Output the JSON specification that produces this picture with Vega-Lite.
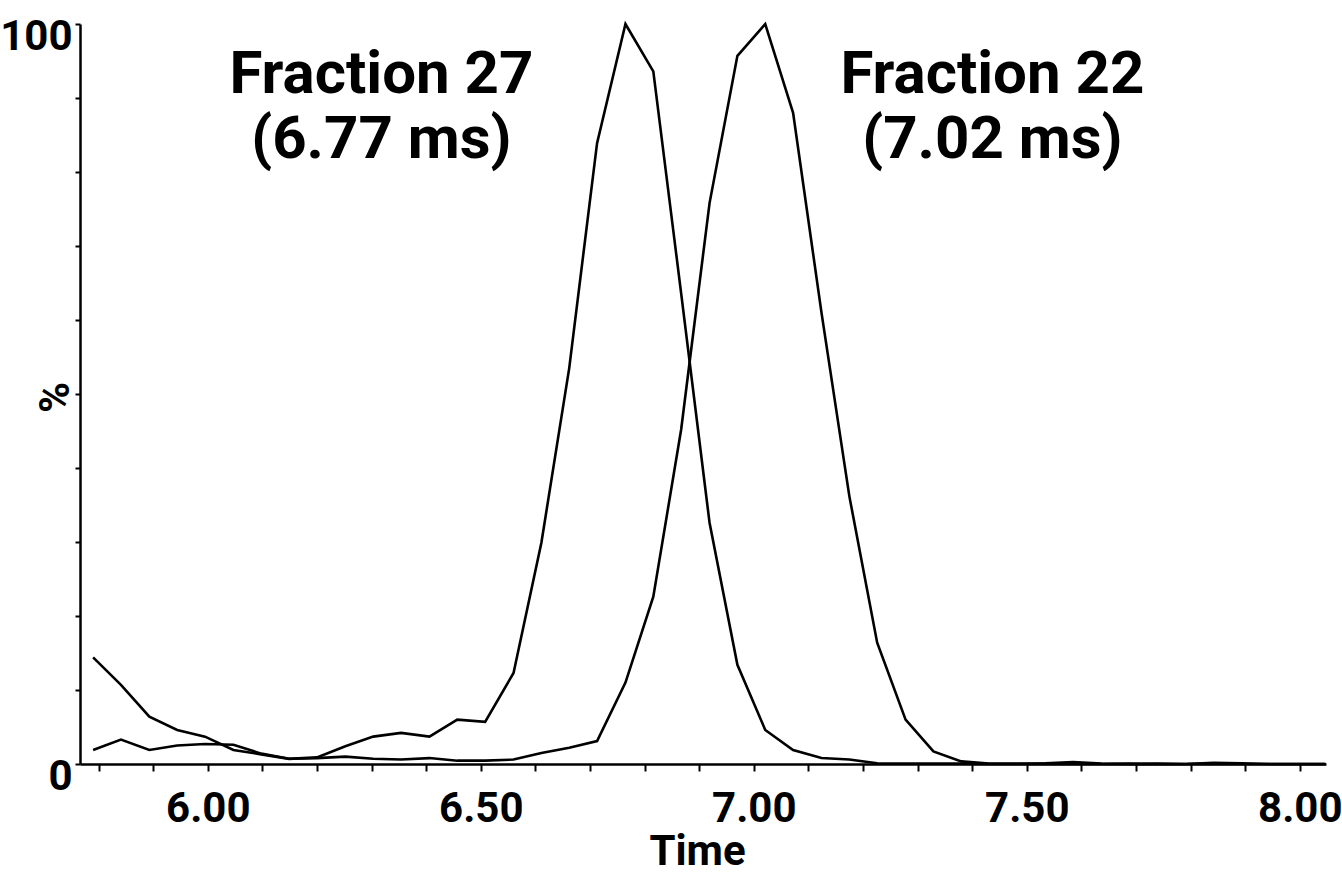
{
  "$schema": "https://vega.github.io/schema/vega-lite/v6.json",
  "autosize": {"type": "none"},
  "padding": {"left": 80, "top": 24, "right": 16, "bottom": 111},
  "width": 1246,
  "height": 740,
  "background": "white",
  "config": {
    "view": {"stroke": null},
    "font": "Roboto"
  },
  "datasets": {
    "series": [
      {"t": 5.790, "pct": 14.4, "fraction": "Fraction 27"},
      {"t": 5.841, "pct": 10.7, "fraction": "Fraction 27"},
      {"t": 5.893, "pct": 6.4, "fraction": "Fraction 27"},
      {"t": 5.944, "pct": 4.6, "fraction": "Fraction 27"},
      {"t": 5.995, "pct": 3.7, "fraction": "Fraction 27"},
      {"t": 6.047, "pct": 1.9, "fraction": "Fraction 27"},
      {"t": 6.098, "pct": 1.3, "fraction": "Fraction 27"},
      {"t": 6.149, "pct": 0.7, "fraction": "Fraction 27"},
      {"t": 6.200, "pct": 0.9, "fraction": "Fraction 27"},
      {"t": 6.252, "pct": 2.4, "fraction": "Fraction 27"},
      {"t": 6.303, "pct": 3.7, "fraction": "Fraction 27"},
      {"t": 6.354, "pct": 4.2, "fraction": "Fraction 27"},
      {"t": 6.406, "pct": 3.7, "fraction": "Fraction 27"},
      {"t": 6.457, "pct": 6.0, "fraction": "Fraction 27"},
      {"t": 6.508, "pct": 5.7, "fraction": "Fraction 27"},
      {"t": 6.560, "pct": 12.3, "fraction": "Fraction 27"},
      {"t": 6.611, "pct": 29.9, "fraction": "Fraction 27"},
      {"t": 6.662, "pct": 53.5, "fraction": "Fraction 27"},
      {"t": 6.713, "pct": 83.9, "fraction": "Fraction 27"},
      {"t": 6.765, "pct": 100, "fraction": "Fraction 27"},
      {"t": 6.816, "pct": 93.6, "fraction": "Fraction 27"},
      {"t": 6.867, "pct": 63.6, "fraction": "Fraction 27"},
      {"t": 6.919, "pct": 32.6, "fraction": "Fraction 27"},
      {"t": 6.970, "pct": 13.4, "fraction": "Fraction 27"},
      {"t": 7.021, "pct": 4.6, "fraction": "Fraction 27"},
      {"t": 7.072, "pct": 1.9, "fraction": "Fraction 27"},
      {"t": 7.124, "pct": 0.8, "fraction": "Fraction 27"},
      {"t": 7.175, "pct": 0.6, "fraction": "Fraction 27"},
      {"t": 7.226, "pct": 0.1, "fraction": "Fraction 27"},
      {"t": 7.278, "pct": 0.05, "fraction": "Fraction 27"},
      {"t": 7.329, "pct": 0.05, "fraction": "Fraction 27"},
      {"t": 7.380, "pct": 0.05, "fraction": "Fraction 27"},
      {"t": 7.431, "pct": 0.0, "fraction": "Fraction 27"},
      {"t": 7.483, "pct": 0.0, "fraction": "Fraction 27"},
      {"t": 7.534, "pct": 0.05, "fraction": "Fraction 27"},
      {"t": 7.585, "pct": 0.0, "fraction": "Fraction 27"},
      {"t": 7.637, "pct": 0.0, "fraction": "Fraction 27"},
      {"t": 7.688, "pct": 0.05, "fraction": "Fraction 27"},
      {"t": 7.739, "pct": 0.0, "fraction": "Fraction 27"},
      {"t": 7.790, "pct": 0.0, "fraction": "Fraction 27"},
      {"t": 7.842, "pct": 0.05, "fraction": "Fraction 27"},
      {"t": 7.893, "pct": 0.0, "fraction": "Fraction 27"},
      {"t": 7.944, "pct": 0.0, "fraction": "Fraction 27"},
      {"t": 7.995, "pct": 0.0, "fraction": "Fraction 27"},
      {"t": 8.047, "pct": 0.0, "fraction": "Fraction 27"},
      {"t": 5.790, "pct": 1.9, "fraction": "Fraction 22"},
      {"t": 5.841, "pct": 3.3, "fraction": "Fraction 22"},
      {"t": 5.893, "pct": 1.9, "fraction": "Fraction 22"},
      {"t": 5.944, "pct": 2.5, "fraction": "Fraction 22"},
      {"t": 5.995, "pct": 2.7, "fraction": "Fraction 22"},
      {"t": 6.047, "pct": 2.6, "fraction": "Fraction 22"},
      {"t": 6.098, "pct": 1.4, "fraction": "Fraction 22"},
      {"t": 6.149, "pct": 0.7, "fraction": "Fraction 22"},
      {"t": 6.200, "pct": 0.8, "fraction": "Fraction 22"},
      {"t": 6.252, "pct": 1.0, "fraction": "Fraction 22"},
      {"t": 6.303, "pct": 0.7, "fraction": "Fraction 22"},
      {"t": 6.354, "pct": 0.6, "fraction": "Fraction 22"},
      {"t": 6.406, "pct": 0.8, "fraction": "Fraction 22"},
      {"t": 6.457, "pct": 0.45, "fraction": "Fraction 22"},
      {"t": 6.508, "pct": 0.45, "fraction": "Fraction 22"},
      {"t": 6.560, "pct": 0.6, "fraction": "Fraction 22"},
      {"t": 6.611, "pct": 1.5, "fraction": "Fraction 22"},
      {"t": 6.662, "pct": 2.2, "fraction": "Fraction 22"},
      {"t": 6.713, "pct": 3.1, "fraction": "Fraction 22"},
      {"t": 6.765, "pct": 11.0, "fraction": "Fraction 22"},
      {"t": 6.816, "pct": 22.6, "fraction": "Fraction 22"},
      {"t": 6.867, "pct": 45.2, "fraction": "Fraction 22"},
      {"t": 6.919, "pct": 75.8, "fraction": "Fraction 22"},
      {"t": 6.970, "pct": 95.7, "fraction": "Fraction 22"},
      {"t": 7.021, "pct": 100, "fraction": "Fraction 22"},
      {"t": 7.072, "pct": 88.0, "fraction": "Fraction 22"},
      {"t": 7.124, "pct": 61.0, "fraction": "Fraction 22"},
      {"t": 7.175, "pct": 36.2, "fraction": "Fraction 22"},
      {"t": 7.226, "pct": 16.4, "fraction": "Fraction 22"},
      {"t": 7.278, "pct": 6.0, "fraction": "Fraction 22"},
      {"t": 7.329, "pct": 1.7, "fraction": "Fraction 22"},
      {"t": 7.380, "pct": 0.35, "fraction": "Fraction 22"},
      {"t": 7.431, "pct": 0.05, "fraction": "Fraction 22"},
      {"t": 7.483, "pct": 0.05, "fraction": "Fraction 22"},
      {"t": 7.534, "pct": 0.1, "fraction": "Fraction 22"},
      {"t": 7.585, "pct": 0.25, "fraction": "Fraction 22"},
      {"t": 7.637, "pct": 0.05, "fraction": "Fraction 22"},
      {"t": 7.688, "pct": 0.0, "fraction": "Fraction 22"},
      {"t": 7.739, "pct": 0.05, "fraction": "Fraction 22"},
      {"t": 7.790, "pct": 0.0, "fraction": "Fraction 22"},
      {"t": 7.842, "pct": 0.15, "fraction": "Fraction 22"},
      {"t": 7.893, "pct": 0.1, "fraction": "Fraction 22"},
      {"t": 7.944, "pct": 0.0, "fraction": "Fraction 22"},
      {"t": 7.995, "pct": 0.0, "fraction": "Fraction 22"},
      {"t": 8.047, "pct": 0.0, "fraction": "Fraction 22"}
    ],
    "labels": [
      {"t": 6.318, "pct": 90.68, "text": "Fraction 27"},
      {"t": 6.318, "pct": 81.9, "text": "(6.77 ms)"},
      {"t": 7.437, "pct": 90.68, "text": "Fraction 22"},
      {"t": 7.437, "pct": 81.9, "text": "(7.02 ms)"}
    ]
  },
  "layer": [
    {
      "data": {"name": "series"},
      "mark": {"type": "line", "color": "black", "strokeWidth": 2.6, "strokeJoin": "miter"},
      "encoding": {
        "x": {
          "field": "t",
          "type": "quantitative",
          "scale": {"domain": [5.766, 8.048], "nice": false, "zero": false},
          "axis": {
            "title": "Time",
            "titleFont": "Roboto",
            "titleFontSize": 42,
            "titleFontWeight": "bold",
            "titleColor": "black",
            "titleX": 617,
            "titleY": 100,
            "titleBaseline": "alphabetic",
            "titleAlign": "center",
            "values": [5.80, 5.85, 5.90, 5.95, 6.00, 6.05, 6.10, 6.15, 6.20, 6.25, 6.30, 6.35, 6.40, 6.45, 6.50, 6.55, 6.60, 6.65, 6.70, 6.75, 6.80, 6.85, 6.90, 6.95, 7.00, 7.05, 7.10, 7.15, 7.20, 7.25, 7.30, 7.35, 7.40, 7.45, 7.50, 7.55, 7.60, 7.65, 7.70, 7.75, 7.80, 7.85, 7.90, 7.95, 8.00],
            "labelExpr": "abs(datum.value * 2 - round(datum.value * 2)) < 0.001 ? format(datum.value, '.2f') : ''",
            "labelFont": "Roboto",
            "labelFontSize": 42,
            "labelFontWeight": "bold",
            "labelColor": "black",
            "labelFlush": false,
            "labelOverlap": false,
            "labelPadding": 17,
            "tickSize": 7,
            "tickWidth": 2,
            "tickColor": "black",
            "domainColor": "black",
            "domainWidth": 2.5,
            "grid": false
          }
        },
        "y": {
          "field": "pct",
          "type": "quantitative",
          "scale": {"domain": [0, 100], "nice": false},
          "axis": {
            "title": "%",
            "titleFont": "Roboto",
            "titleFontSize": 42,
            "titleFontWeight": "bold",
            "titleColor": "black",
            "titleAngle": 270,
            "titleX": -12,
            "titleY": 373,
            "titleAlign": "center",
            "titleBaseline": "alphabetic",
            "values": [0, 10, 20, 30, 40, 50, 60, 70, 80, 90, 100],
            "labelExpr": "datum.value == 0 || datum.value == 100 ? datum.label : ''",
            "labelFont": "Roboto",
            "labelFontSize": 42,
            "labelFontWeight": "bold",
            "labelColor": "black",
            "labelOffset": 12,
            "labelPadding": 3,
            "labelFlush": false,
            "labelOverlap": false,
            "tickSize": 5,
            "tickWidth": 2,
            "tickColor": "black",
            "domainColor": "black",
            "domainWidth": 2.5,
            "grid": false
          }
        },
        "detail": {"field": "fraction", "type": "nominal"}
      }
    },
    {
      "data": {"name": "labels"},
      "mark": {"type": "text", "font": "Roboto", "fontSize": 60, "fontWeight": "bold", "color": "black", "align": "center", "baseline": "alphabetic"},
      "encoding": {
        "x": {"field": "t", "type": "quantitative"},
        "y": {"field": "pct", "type": "quantitative"},
        "text": {"field": "text", "type": "nominal"}
      }
    }
  ]
}
